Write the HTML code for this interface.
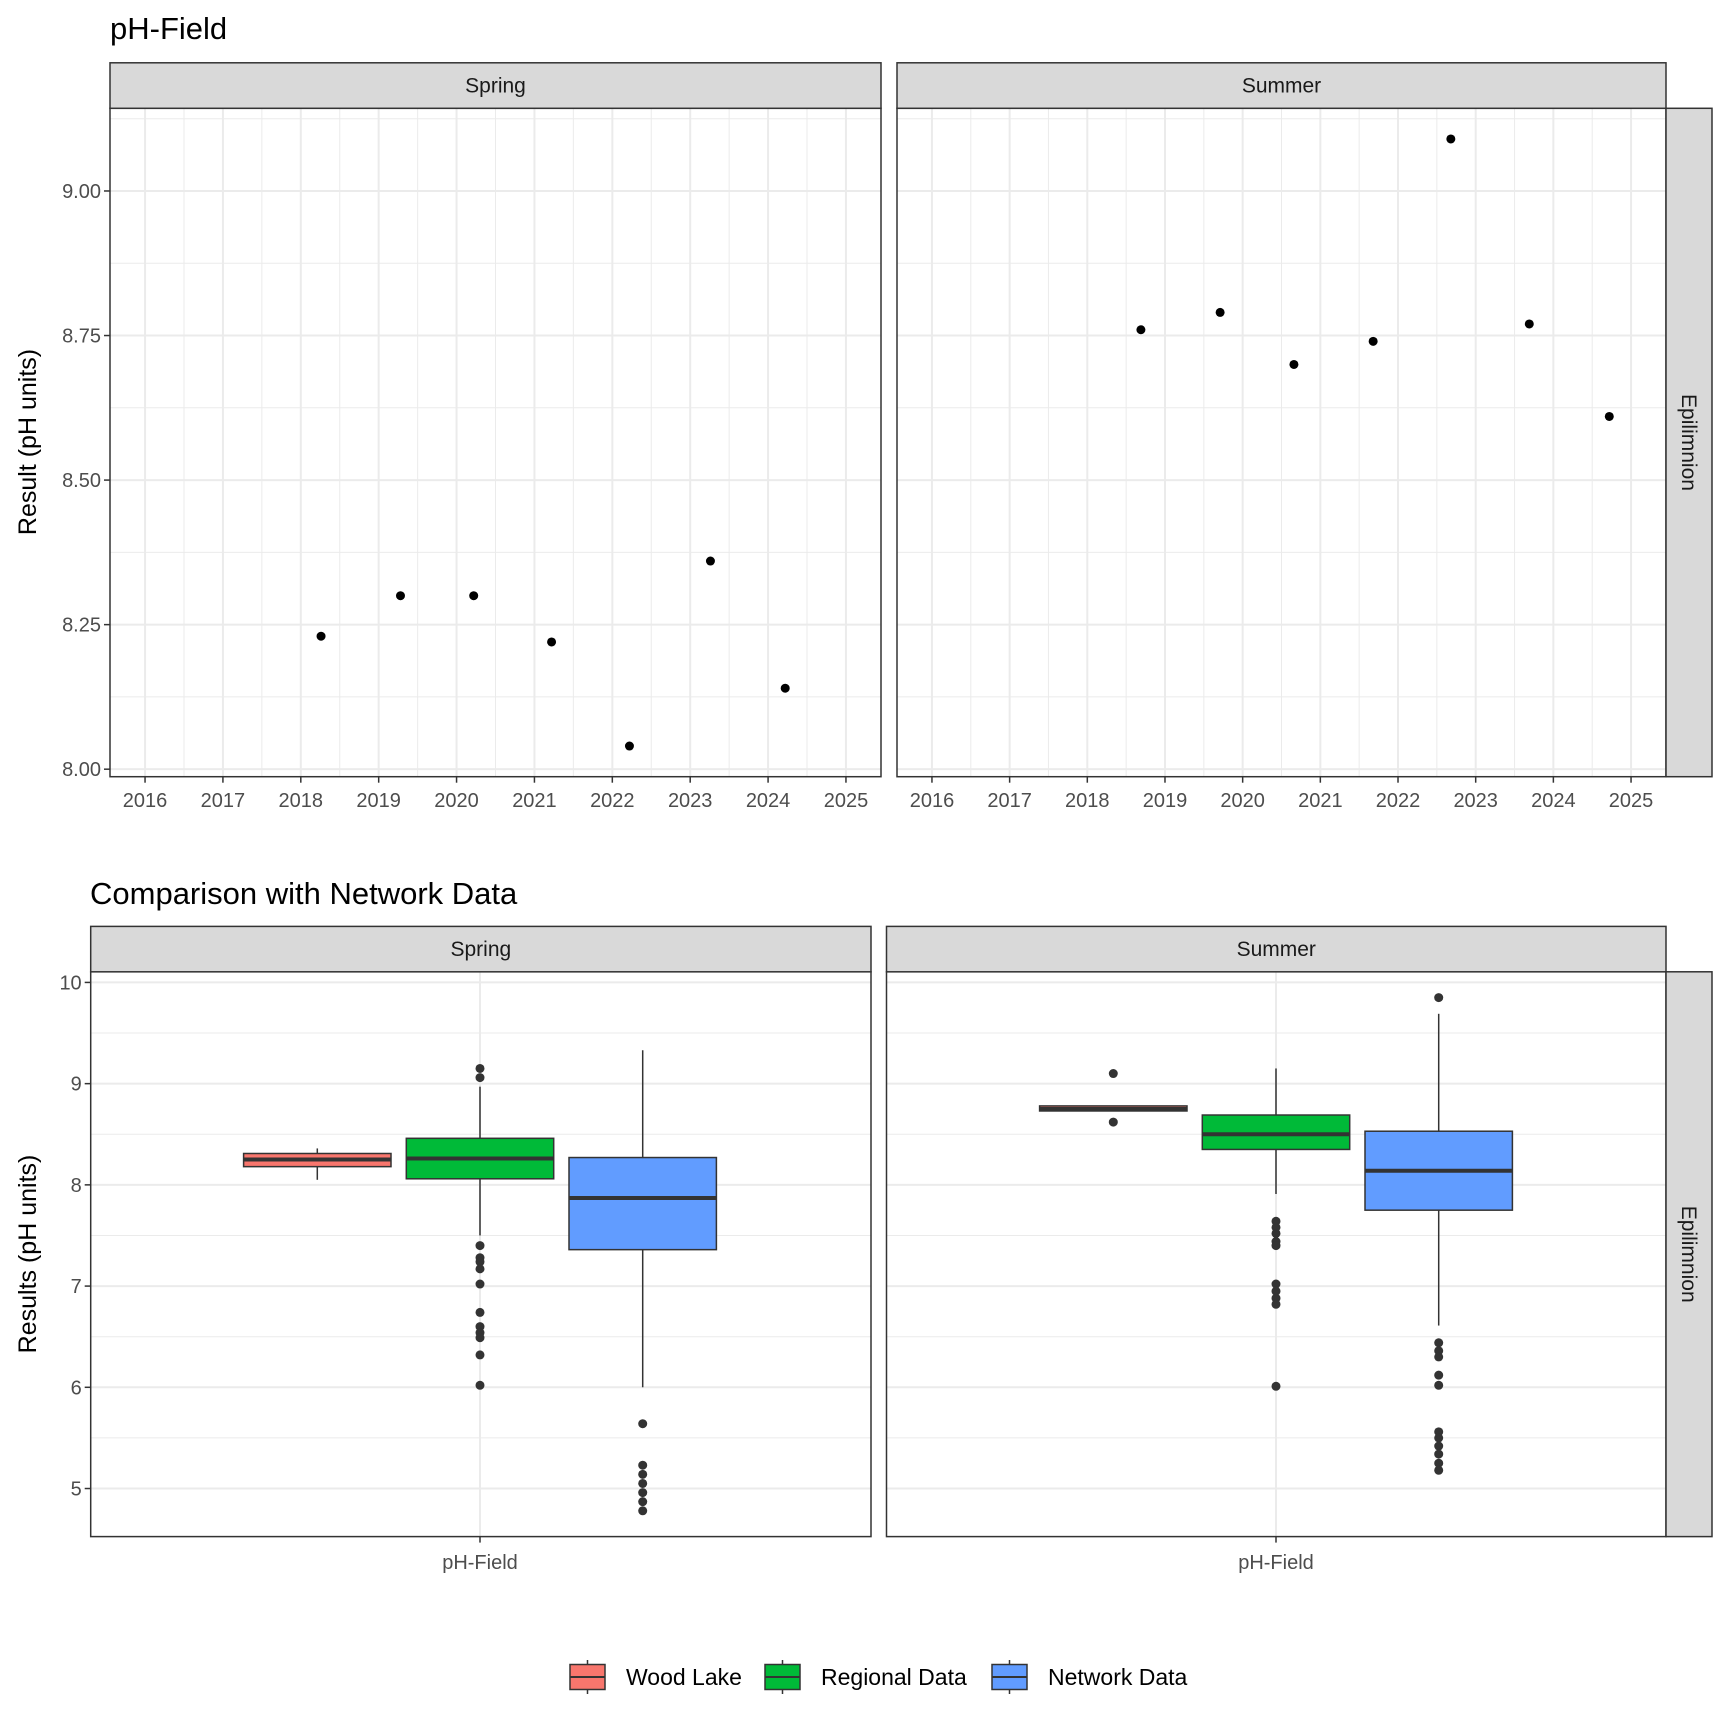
<!DOCTYPE html>
<html><head><meta charset="utf-8"><style>
html,body{margin:0;padding:0;background:#fff}
svg{display:block}
text{font-family:"Liberation Sans",sans-serif}
</style></head><body>
<svg id="c" width="1728" height="1728" viewBox="0 0 1728 1728" xmlns="http://www.w3.org/2000/svg"></svg>
<script>
// ---- data: top scatter ----
const springYears=[2018.26,2019.28,2020.22,2021.22,2022.22,2023.26,2024.22];
const springVals=[8.23,8.30,8.30,8.22,8.04,8.36,8.14];
const summerYears=[2018.69,2019.71,2020.66,2021.68,2022.68,2023.69,2024.72];
const summerVals=[8.76,8.79,8.70,8.74,9.09,8.77,8.61];
const yearTicks=[2016,2017,2018,2019,2020,2021,2022,2023,2024,2025];
const topYTicks=[8.00,8.25,8.50,8.75,9.00];
// ---- data: boxplots [lowWhisker,q1,median,q3,highWhisker] ----
const groups=["Wood Lake","Regional Data","Network Data"];
const groupColors=["#F8766D","#00BA38","#619CFF"];
const springBoxes=[[8.05,8.18,8.25,8.31,8.36],[7.50,8.06,8.26,8.46,8.97],[6.00,7.36,7.87,8.27,9.33]];
const springOut=[[],[9.15,9.06,7.40,7.28,7.24,7.17,7.02,6.74,6.60,6.54,6.49,6.32,6.02],[5.64,5.23,5.14,5.05,4.96,4.87,4.78]];
const summerBoxes=[[8.73,8.73,8.75,8.78,8.78],[7.91,8.35,8.50,8.69,9.15],[6.61,7.75,8.14,8.53,9.69]];
const summerOut=[[9.10,8.62],[7.64,7.58,7.52,7.44,7.40,7.02,6.95,6.88,6.82,6.01],[9.85,6.44,6.36,6.30,6.12,6.02,5.56,5.50,5.42,5.34,5.25,5.18]];
const botYTicks=[5,6,7,8,9,10];

const S=document.getElementById('c');
const NS="http://www.w3.org/2000/svg";
function el(tag,attrs,parent){const e=document.createElementNS(NS,tag);for(const k in attrs)e.setAttribute(k,attrs[k]);(parent||S).appendChild(e);return e;}
function txt(s,attrs,parent){const e=el('text',attrs,parent);e.textContent=s;return e;}
function lin(d0,d1,r0,r1){return v=>r0+(v-d0)/(d1-d0)*(r1-r0);}

// titles
let t=txt('pH-Field',{x:110,y:39,'font-size':31,fill:'#000'});

t=txt('Comparison with Network Data',{x:90,y:904,'font-size':31,fill:'#000'});


function strip(x0,x1,y0,y1,label,name){
  const r=el('rect',{x:x0,y:y0,width:x1-x0,height:y1-y0,fill:'#d9d9d9',stroke:'#333','stroke-width':1.5});
  
  const s=txt(label,{x:(x0+x1)/2,y:(y0+y1)/2+7,'font-size':21,'text-anchor':'middle',fill:'#1a1a1a'});
  
}
function vstrip(x0,x1,y0,y1,label,name){
  const r=el('rect',{x:x0,y:y0,width:x1-x0,height:y1-y0,fill:'#d9d9d9',stroke:'#333','stroke-width':1.5});
  
  const cx=(x0+x1)/2-7,cy=(y0+y1)/2;
  const s=txt(label,{x:cx,y:cy,'font-size':21,'text-anchor':'middle',fill:'#1a1a1a',transform:`rotate(90 ${cx} ${cy})`});
  
}

// ---- top panels ----
const TY0=108.3,TY1=776.7;
const ty=lin(7.987,9.143,TY1,TY0);
function topPanel(x0,x1,years,vals,label,name,showY){
  const g=el('g',{});
  const tx=lin(2015.55,2025.45,x0,x1);
  el('rect',{x:x0,y:TY0,width:x1-x0,height:TY1-TY0,fill:'#fff'},g);
  for(let i=0;i<yearTicks.length;i++){
    const v=yearTicks[i]+0.5; if(tx(v)<x1) el('line',{x1:tx(v),x2:tx(v),y1:TY0,y2:TY1,stroke:'#ebebeb','stroke-width':1},g);
  }
  for(let i=0;i<topYTicks.length;i++){const v=topYTicks[i]+0.125;if(ty(v)>TY0)el('line',{x1:x0,x2:x1,y1:ty(v),y2:ty(v),stroke:'#ebebeb','stroke-width':1},g);}
  yearTicks.forEach(v=>el('line',{x1:tx(v),x2:tx(v),y1:TY0,y2:TY1,stroke:'#ebebeb','stroke-width':2},g));
  topYTicks.forEach(v=>el('line',{x1:x0,x2:x1,y1:ty(v),y2:ty(v),stroke:'#ebebeb','stroke-width':2},g));
  years.forEach((yr,i)=>{
    const c=el('circle',{cx:tx(yr),cy:ty(vals[i]),r:4.5,fill:'#000'},g);
    
  });
  el('rect',{x:x0,y:TY0,width:x1-x0,height:TY1-TY0,fill:'none',stroke:'#333','stroke-width':1.5},g);
  yearTicks.forEach(v=>{
    el('line',{x1:tx(v),x2:tx(v),y1:TY1,y2:TY1+6,stroke:'#333','stroke-width':1.5},g);
    const l=txt(String(v),{x:tx(v),y:807,'font-size':20,'text-anchor':'middle',fill:'#4d4d4d'},g);
    
  });
  if(showY){
    topYTicks.forEach(v=>{
      el('line',{x1:x0-6,x2:x0,y1:ty(v),y2:ty(v),stroke:'#333','stroke-width':1.5},g);
      const l=txt(v.toFixed(2),{x:x0-9,y:ty(v)+7,'font-size':20,'text-anchor':'end',fill:'#4d4d4d'},g);
      
    });
  }
  strip(x0,x1,62.8,TY0,label,name+'-strip');
}
topPanel(110,881,springYears,springVals,'Spring','top-spring-panel',true);
topPanel(897,1666,summerYears,summerVals,'Summer','top-summer-panel',false);
vstrip(1666,1712,TY0,TY1,'Epilimnion','top-epilimnion-strip');
t=txt('Result (pH units)',{x:36,y:442,'font-size':25,'text-anchor':'middle',fill:'#000',transform:'rotate(-90 36 442)'});


// ---- bottom panels ----
const BY0=971.8,BY1=1536.6;
const by=lin(4.525,10.105,BY1,BY0);
function botPanel(x0,x1,center,boxes,outs,label,name,showY){
  const g=el('g',{});
  el('rect',{x:x0,y:BY0,width:x1-x0,height:BY1-BY0,fill:'#fff'},g);
  botYTicks.forEach(v=>{const m=v+0.5;if(by(m)>BY0)el('line',{x1:x0,x2:x1,y1:by(m),y2:by(m),stroke:'#ebebeb','stroke-width':1},g);});
  botYTicks.forEach(v=>el('line',{x1:x0,x2:x1,y1:by(v),y2:by(v),stroke:'#ebebeb','stroke-width':2},g));
  el('line',{x1:center,x2:center,y1:BY0,y2:BY1,stroke:'#ebebeb','stroke-width':2},g);
  const dodge=162.7,hw=73.7;
  boxes.forEach((b,i)=>{
    const cx=center+(i-1)*dodge;
    const bg=el('g',{},g);
    el('line',{x1:cx,x2:cx,y1:by(b[4]),y2:by(b[3]),stroke:'#333','stroke-width':1.5},bg);
    el('line',{x1:cx,x2:cx,y1:by(b[1]),y2:by(b[0]),stroke:'#333','stroke-width':1.5},bg);
    el('rect',{x:cx-hw,y:by(b[3]),width:2*hw,height:Math.max(by(b[1])-by(b[3]),0.1),fill:groupColors[i],stroke:'#333','stroke-width':1.5},bg);
    el('line',{x1:cx-hw,x2:cx+hw,y1:by(b[2]),y2:by(b[2]),stroke:'#333','stroke-width':4},bg);
    outs[i].forEach(v=>{
      const c=el('circle',{cx:cx,cy:by(v),r:4.5,fill:'#333'},bg);
      
    });
  });
  el('rect',{x:x0,y:BY0,width:x1-x0,height:BY1-BY0,fill:'none',stroke:'#333','stroke-width':1.5},g);
  el('line',{x1:center,x2:center,y1:BY1,y2:BY1+6,stroke:'#333','stroke-width':1.5},g);
  const l=txt('pH-Field',{x:center,y:1569,'font-size':20,'text-anchor':'middle',fill:'#4d4d4d'},g);
  
  if(showY){
    botYTicks.forEach(v=>{
      el('line',{x1:x0-6,x2:x0,y1:by(v),y2:by(v),stroke:'#333','stroke-width':1.5},g);
      const k=txt(String(v),{x:x0-9,y:by(v)+7,'font-size':20,'text-anchor':'end',fill:'#4d4d4d'},g);
      
    });
  }
  strip(x0,x1,926.4,BY0,label,name+'-strip');
}
botPanel(90.7,871,480,springBoxes,springOut,'Spring','bottom-spring-panel',true);
botPanel(886.5,1666,1276,summerBoxes,summerOut,'Summer','bottom-summer-panel',false);
vstrip(1666,1712,BY0,BY1,'Epilimnion','bottom-epilimnion-strip');
t=txt('Results (pH units)',{x:36,y:1254,'font-size':25,'text-anchor':'middle',fill:'#000',transform:'rotate(-90 36 1254)'});


// ---- legend ----
const legX=[570,765,992];
const lg=el('g',{});
groups.forEach((gname,i)=>{
  const e=el('g',{},lg);
  const x=legX[i],cy=1677;
  el('line',{x1:x+17.5,x2:x+17.5,y1:cy-17,y2:cy+17,stroke:'#333','stroke-width':1.5},e);
  el('rect',{x:x,y:cy-12.5,width:35,height:25,fill:groupColors[i],stroke:'#333','stroke-width':1.5},e);
  el('line',{x1:x,x2:x+35,y1:cy,y2:cy,stroke:'#333','stroke-width':2},e);
  txt(gname,{x:x+56,y:cy+8,'font-size':23,fill:'#000'},e);
});
</script>
</body></html>
